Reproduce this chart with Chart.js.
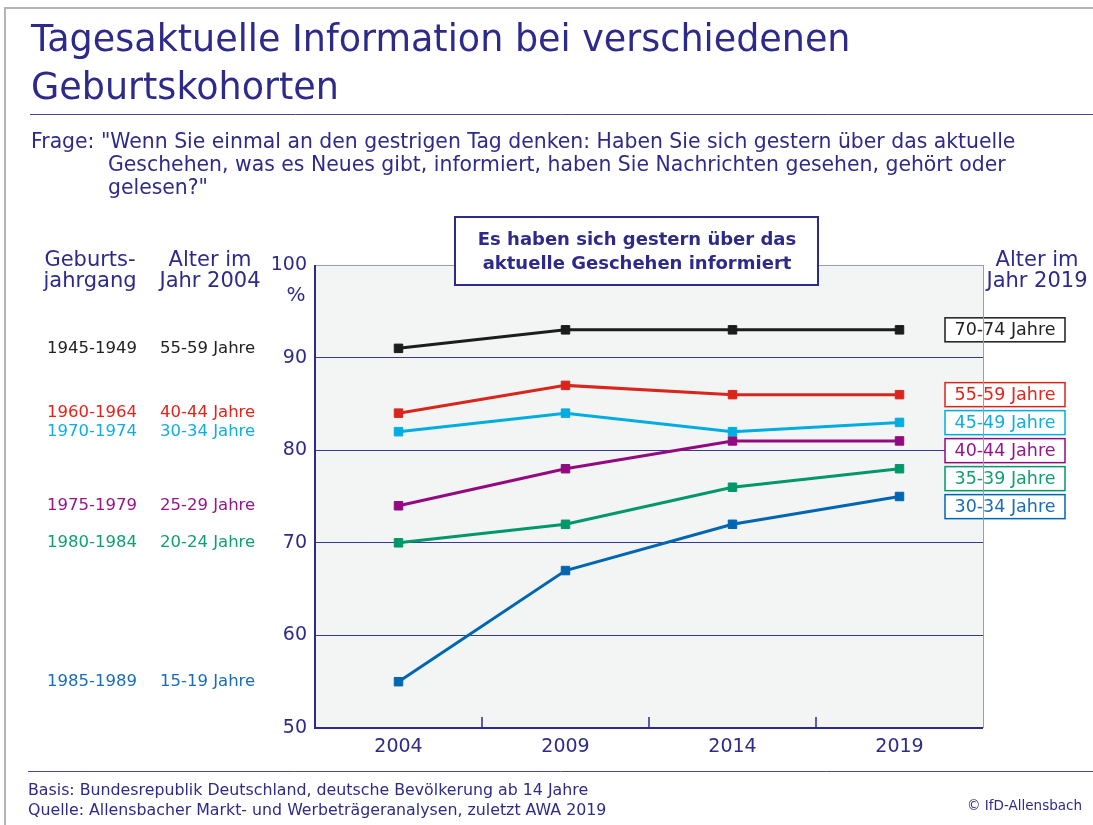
<!DOCTYPE html>
<html lang="de">
<head>
<meta charset="UTF-8">
<title>Tagesaktuelle Information bei verschiedenen Geburtskohorten</title>
<script src="https://cdn.jsdelivr.net/npm/chart.js"></script>
<style>
  html, body { margin: 0; padding: 0; background: #fff; }
  #wrap { width: 1093px; height: 825px; }
</style>
</head>
<body>
<div id="wrap"><canvas id="chart" width="1093" height="825"></canvas></div>
<script>
// --- data ---
const years = ['2004', '2009', '2014', '2019'];
const cohorts = ['1945-1949', '1960-1964', '1970-1974', '1975-1979', '1980-1984', '1985-1989'];
const ages2004 = ['55-59 Jahre', '40-44 Jahre', '30-34 Jahre', '25-29 Jahre', '20-24 Jahre', '15-19 Jahre'];
const ages2019 = ['70-74 Jahre', '55-59 Jahre', '45-49 Jahre', '40-44 Jahre', '35-39 Jahre', '30-34 Jahre'];
const born1945 = [91, 93, 93, 93];
const born1960 = [84, 87, 86, 86];
const born1970 = [82, 84, 82, 83];
const born1975 = [74, 78, 81, 81];
const born1980 = [70, 72, 76, 78];
const born1985 = [55, 67, 72, 75];
const yTicks = [50, 60, 70, 80, 90, 100];

const series = [born1945, born1960, born1970, born1975, born1980, born1985];
const lineColors = ['#1c1c1c', '#d9261c', '#00ade2', '#930a80', '#00986a', '#0066b2'];
const textColors = ['#222222', '#e3241b', '#10ade0', '#96168a', '#10a070', '#1a6cb8'];

const NAVY = '#2e2a8a';
const FONT = '"DejaVu Sans", sans-serif';

const decor = {
  id: 'decor',
  beforeDraw(chart) {
    const { ctx, chartArea: a } = chart;
    ctx.save();
    ctx.fillStyle = '#fff';
    ctx.fillRect(0, 0, chart.width, chart.height);
    // outer frame
    ctx.strokeStyle = '#b4b4b4';
    ctx.lineWidth = 2;
    ctx.beginPath();
    ctx.moveTo(5, 825); ctx.lineTo(5, 8); ctx.lineTo(1093, 8);
    ctx.stroke();
    // plot background
    ctx.fillStyle = '#f3f5f5';
    ctx.fillRect(a.left, a.top, a.right - a.left, a.bottom - a.top);
    ctx.restore();
  },
  beforeDatasetsDraw(chart) {
    const { ctx, chartArea: a, scales } = chart;
    ctx.save();
    // borders
    ctx.strokeStyle = '#8e9cd2';
    ctx.lineWidth = 1;
    ctx.beginPath();
    ctx.moveTo(a.left, a.top + 0.5); ctx.lineTo(a.right, a.top + 0.5);
    ctx.stroke();
    ctx.strokeStyle = NAVY;
    ctx.lineWidth = 2;
    ctx.beginPath();
    ctx.moveTo(a.left, a.top); ctx.lineTo(a.left, a.bottom); ctx.lineTo(a.right, a.bottom);
    ctx.stroke();
    // short ticks between categories
    ctx.lineWidth = 1.5;
    const x = scales.x;
    for (let i = 0; i < years.length - 1; i++) {
      const px = (x.getPixelForTick(i) + x.getPixelForTick(i + 1)) / 2;
      ctx.beginPath();
      ctx.moveTo(px, a.bottom - 11); ctx.lineTo(px, a.bottom);
      ctx.stroke();
    }
    ctx.restore();
  },
  afterDraw(chart) {
    const { ctx, chartArea: a, scales } = chart;
    const y = scales.y;
    ctx.save();
    ctx.textBaseline = 'alphabetic';
    ctx.fillStyle = NAVY;

    // title
    ctx.font = '36.5px ' + FONT;
    ctx.textAlign = 'left';
    ctx.fillText('Tagesaktuelle Information bei verschiedenen', 31, 51);
    ctx.fillText('Geburtskohorten', 31, 99);

    ctx.strokeStyle = '#4a449e';
    ctx.lineWidth = 1;
    ctx.beginPath();
    ctx.moveTo(30, 114.5); ctx.lineTo(1093, 114.5);
    ctx.stroke();

    // question
    ctx.font = '20.4px ' + FONT;
    ctx.fillText('Frage: "Wenn Sie einmal an den gestrigen Tag denken: Haben Sie sich gestern über das aktuelle', 31, 148);
    ctx.fillText('Geschehen, was es Neues gibt, informiert, haben Sie Nachrichten gesehen, gehört oder', 108, 171);
    ctx.fillText('gelesen?"', 108, 194);

    // column headers
    ctx.font = '21px ' + FONT;
    ctx.textAlign = 'center';
    ctx.fillText('Geburts-', 90, 266);
    ctx.fillText('jahrgang', 90, 287);
    ctx.fillText('Alter im', 210, 266);
    ctx.fillText('Jahr 2004', 210, 287);
    ctx.fillText('Alter im', 1037, 266);
    ctx.fillText('Jahr 2019', 1037, 287);
    ctx.font = '20px ' + FONT;
    ctx.fillText('%', 296, 301);

    // left labels at 2004 values
    ctx.textAlign = 'left';
    ctx.textBaseline = 'middle';
    ctx.font = '16.5px ' + FONT;
    series.forEach((s, i) => {
      const py = y.getPixelForValue(s[0]);
      ctx.fillStyle = textColors[i];
      ctx.fillText(cohorts[i], 47, py);
      ctx.fillText(ages2004[i], 160, py);
    });

    // right boxes at 2019 values, pushed apart
    ctx.font = '17.5px ' + FONT;
    let prev = -Infinity;
    series.forEach((s, i) => {
      let py = Math.max(y.getPixelForValue(s[s.length - 1]), prev + 28);
      prev = py;
      ctx.fillStyle = '#fff';
      ctx.fillRect(945, py - 12, 120, 24);
      ctx.strokeStyle = lineColors[i];
      ctx.lineWidth = 1.5;
      ctx.strokeRect(945, py - 12, 120, 24);
      ctx.fillStyle = textColors[i];
      ctx.textAlign = 'center';
      ctx.fillText(ages2019[i], 1005, py + 1);
    });

    // right border drawn through the boxes
    ctx.strokeStyle = '#8e9cd2';
    ctx.lineWidth = 1;
    ctx.beginPath();
    ctx.moveTo(a.right + 0.5, a.top); ctx.lineTo(a.right + 0.5, a.bottom);
    ctx.stroke();

    // headline box
    ctx.fillStyle = '#fff';
    ctx.fillRect(455, 217, 363, 68);
    ctx.strokeStyle = NAVY;
    ctx.lineWidth = 2;
    ctx.strokeRect(455, 217, 363, 68);
    ctx.fillStyle = NAVY;
    ctx.font = 'bold 18px ' + FONT;
    ctx.textAlign = 'center';
    ctx.textBaseline = 'alphabetic';
    ctx.fillText('Es haben sich gestern über das', 637, 245);
    ctx.fillText('aktuelle Geschehen informiert', 637, 269);

    // footer
    ctx.strokeStyle = '#4a449e';
    ctx.lineWidth = 1;
    ctx.beginPath();
    ctx.moveTo(28, 771.5); ctx.lineTo(1093, 771.5);
    ctx.stroke();
    ctx.font = '15.8px ' + FONT;
    ctx.textAlign = 'left';
    ctx.fillText('Basis: Bundesrepublik Deutschland, deutsche Bevölkerung ab 14 Jahre', 28, 795);
    ctx.fillText('Quelle: Allensbacher Markt- und Werbeträgeranalysen, zuletzt AWA 2019', 28, 815);
    ctx.font = '13.5px ' + FONT;
    ctx.textAlign = 'right';
    ctx.fillText('© IfD-Allensbach', 1082, 810);
    ctx.restore();
  }
};

new Chart(document.getElementById('chart'), {
  type: 'line',
  data: {
    labels: years,
    datasets: series.map((s, i) => ({
      label: cohorts[i],
      data: s,
      borderColor: lineColors[i],
      backgroundColor: lineColors[i],
      borderWidth: 3,
      pointStyle: 'rect',
      pointRadius: 6,
      pointBorderWidth: 1,
      tension: 0
    }))
  },
  options: {
    responsive: false,
    animation: false,
    layout: { padding: { top: 265, right: 110, bottom: 0, left: 0 } },
    plugins: { legend: { display: false }, tooltip: { enabled: false } },
    scales: {
      x: {
        offset: true,
        grid: { display: false, drawTicks: false },
        border: { display: false },
        ticks: { color: NAVY, padding: 8, font: { family: FONT, size: 19 } },
        afterFit(scale) { scale.height = 97; }
      },
      y: {
        min: 50,
        max: 100,
        afterBuildTicks(scale) { scale.ticks = yTicks.map(v => ({ value: v })); },
        grid: {
          drawTicks: false,
          color: c => (c.tick && (c.tick.value === 50 || c.tick.value === 100)) ? 'rgba(0,0,0,0)' : '#3c3694',
          lineWidth: 1
        },
        border: { display: false },
        ticks: { color: NAVY, padding: 8, font: { family: FONT, size: 19 } },
        afterFit(scale) { scale.width = 315; }
      }
    }
  },
  plugins: [decor]
});
</script>
</body>
</html>
